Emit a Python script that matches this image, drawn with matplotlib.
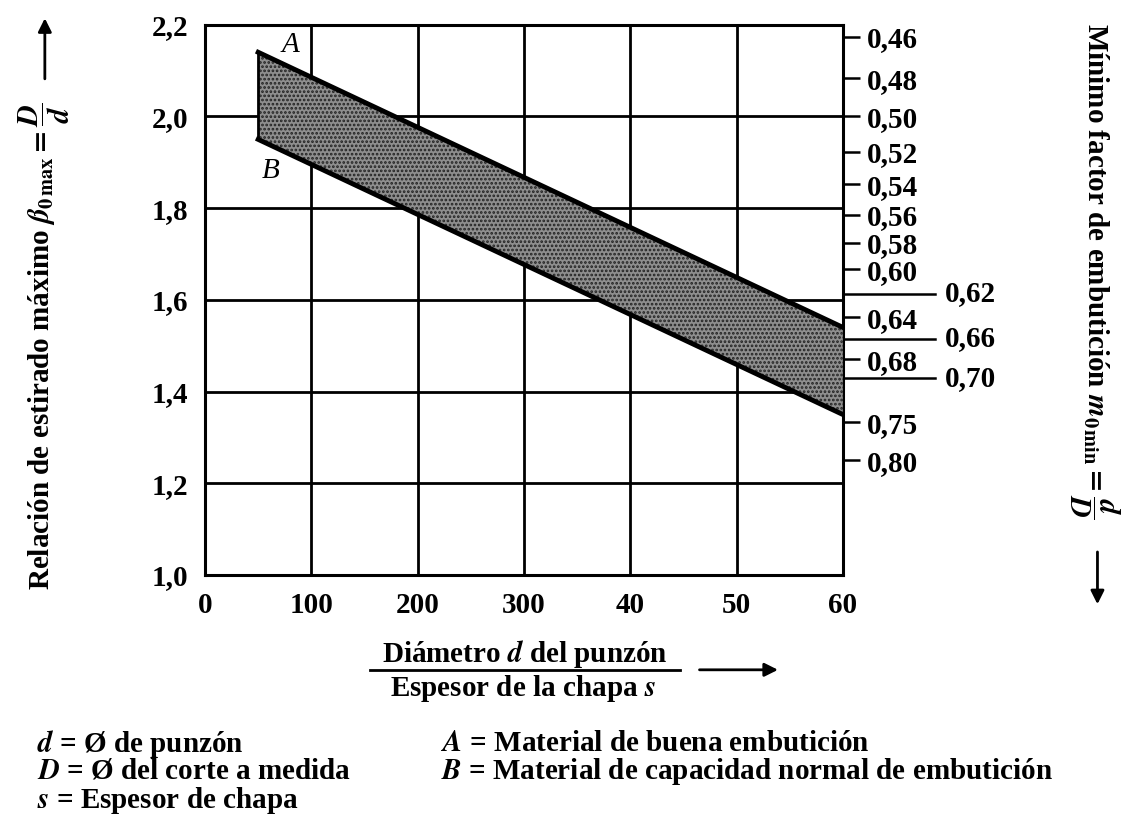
import numpy as np
import matplotlib
matplotlib.use("Agg")
from matplotlib import pyplot as plt
from matplotlib.lines import Line2D
import matplotlib.transforms as mtransforms

plt.rcParams['font.family'] = ['Liberation Serif', 'DejaVu Serif']
plt.rcParams['font.weight'] = 'bold'
plt.rcParams['mathtext.fontset'] = 'stix'
plt.rcParams['hatch.linewidth'] = 1.3

# band limits (x = d/s, y = beta)
band_x = [50, 600]
line_A = [2.14, 1.54]
line_B = [1.95, 1.35]

# axis ticks
x_ticks = [0, 100, 200, 300, 400, 500, 600]
x_labels = ['0', '100', '200', '300', '40', '50', '60']
y_ticks = [1.0, 1.2, 1.4, 1.6, 1.8, 2.0, 2.2]
y_labels = ['1,0', '1,2', '1,4', '1,6', '1,8', '2,0', '2,2']

# right scale: m = d/D, placed at 1/m
m_short = [0.46, 0.48, 0.50, 0.52, 0.54, 0.56, 0.58, 0.60, 0.64, 0.68, 0.75, 0.80]
m_long = [0.62, 0.66, 0.70]

fig = plt.figure(figsize=(11.21, 8.30), dpi=100)
ax = fig.add_axes([0.1829, 0.3072, 0.569, 0.663])

ax.set_xlim(0, 600)
ax.set_ylim(1.0, 2.2)
ax.set_xticks(x_ticks)
ax.set_xticklabels(x_labels)
ax.set_yticks(y_ticks)
ax.set_yticklabels(y_labels)
ax.tick_params(length=0, labelsize=21, pad=12)
ax.grid(True, color='black', lw=2)
for sp in ax.spines.values():
    sp.set_linewidth(2.2)

# shaded band
ax.fill_between(band_x, line_B, line_A, facecolor='#8e8e8e', hatch='....',
                edgecolor='#222222', linewidth=0, zorder=3)
ax.plot(band_x, line_A, color='black', lw=3.5, zorder=4)
ax.plot(band_x, line_B, color='black', lw=3.5, zorder=4)
ax.plot([band_x[0], band_x[0]], [line_B[0], line_A[0]], color='black', lw=2, zorder=4)

ax.text(80, 2.155, 'A', fontsize=21, style='italic', fontweight='normal',
        ha='center', va='center')
ax.text(62, 1.88, 'B', fontsize=21, style='italic', fontweight='normal',
        ha='center', va='center')

# right scale
ax2 = ax.twinx()
ax2.set_ylim(1.0, 2.2)
ax2.set_yticks([1 / m for m in m_short])
ax2.set_yticklabels([('%.2f' % m).replace('.', ',') for m in m_short])
ax2.tick_params(axis='y', length=12, width=1.8, labelsize=21, pad=5)
for sp in ax2.spines.values():
    sp.set_visible(False)

trans = mtransforms.blended_transform_factory(ax.transAxes, ax.transData)
for m in m_long:
    ax.add_line(Line2D([1.0, 1.145], [1 / m, 1 / m], transform=trans,
                       color='black', lw=1.8, clip_on=False))
    ax.text(1.16, 1 / m, ('%.2f' % m).replace('.', ','), transform=trans,
            fontsize=21, ha='left', va='center')

arrow = dict(arrowstyle='-|>', color='black', lw=2, mutation_scale=20,
             shrinkA=0, shrinkB=0)

# axis titles
fig.text(0.040, 0.289,
         r'Relación de estirado máximo $\beta_{0\,\mathrm{max}}=\dfrac{D}{d}$',
         rotation=90, ha='center', va='bottom', fontsize=21)
ax.annotate('', xy=(0.040, 0.978), xytext=(0.040, 0.905), xycoords='figure fraction',
            arrowprops=arrow)
fig.text(0.976, 0.972,
         r'Mínimo factor de embutición $m_{0\,\mathrm{min}}=\dfrac{d}{D}$',
         rotation=-90, ha='center', va='top', fontsize=21)
ax.annotate('', xy=(0.979, 0.272), xytext=(0.979, 0.335), xycoords='figure fraction',
            arrowprops=arrow)

fig.text(0.468, 0.212, r'Diámetro $d$ del punzón', ha='center', va='center', fontsize=21)
fig.add_artist(Line2D([0.330, 0.607], [0.193, 0.193], color='black', lw=2))
fig.text(0.466, 0.170, r'Espesor de la chapa $s$', ha='center', va='center', fontsize=21)
ax.annotate('', xy=(0.694, 0.193), xytext=(0.624, 0.193), xycoords='figure fraction',
            arrowprops=arrow)

# legend text
fig.text(0.033, 0.104, r'$d$ = Ø de punzón', fontsize=21, va='center')
fig.text(0.033, 0.071, r'$D$ = Ø del corte a medida', fontsize=21, va='center')
fig.text(0.033, 0.036, r'$s$ = Espesor de chapa', fontsize=21, va='center')
fig.text(0.393, 0.104, r'$A$ = Material de buena embutición', fontsize=21, va='center')
fig.text(0.393, 0.071, r'$B$ = Material de capacidad normal de embutición', fontsize=21, va='center')

fig.savefig('out.png', dpi=100)
